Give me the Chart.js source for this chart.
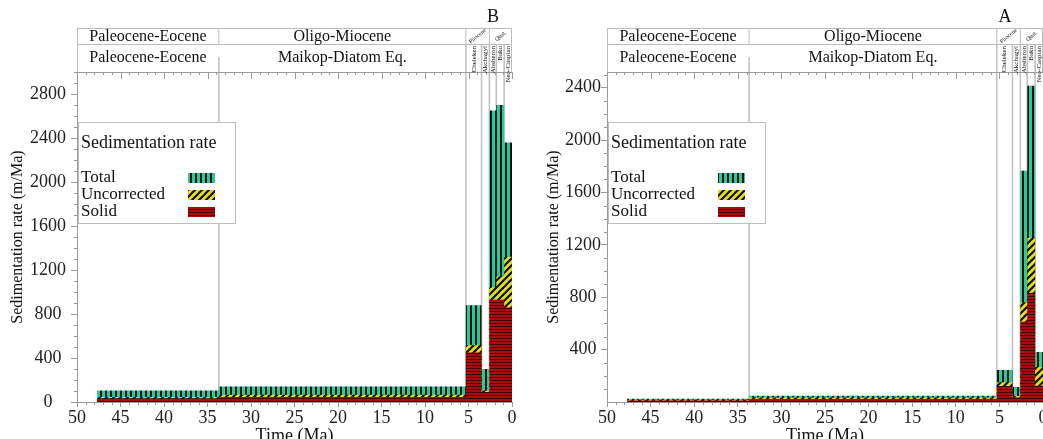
<!DOCTYPE html>
<html><head><meta charset="utf-8">
<script src="https://cdn.jsdelivr.net/npm/chart.js@4.4.1/dist/chart.umd.min.js"></script>
<style>
html,body{margin:0;padding:0;background:#fff;overflow:hidden;width:1043px;height:439px;}
canvas{position:absolute;top:0;}
#cB{left:0;}
#cA{left:522px;}
</style></head><body>
<canvas id="cB" width="522" height="447"></canvas>
<canvas id="cA" width="530" height="447"></canvas>
<script>
// ---- data ----
const barEdges = [47.7, 33.7, 5.3, 3.5, 2.6, 1.8, 0.9, 0];   // Ma, start of each interval (last = end)
const totalB   = [105, 140, 880, 300, 2650, 2700, 2360];
const uncorrB  = [45, 65, 515, 105, 1040, 1140, 1320];
const solidB   = [35, 45, 450, 90, 930, 930, 860];
const totalA   = [25, 48, 245, 115, 1765, 2415, 382];
const uncorrA  = [18, 35, 150, 45, 760, 1255, 268];
const solidA   = [12, 22, 122, 35, 612, 835, 125];
const timeTicks  = [50, 45, 40, 35, 30, 25, 20, 15, 10, 5, 0];
const rateTicksB = [0, 400, 800, 1200, 1600, 2000, 2400, 2800];
const rateTicksA = [400, 800, 1200, 1600, 2000, 2400];
const eraNames   = ['Paleocene-Eocene', 'Oligo-Miocene', 'Pliocene', 'Quat.'];
const eraEdges   = [50, 33.7, 5.3, 2.6, 0];
const stageNames = ['Paleocene-Eocene', 'Maikop-Diatom Eq.', 'Cheleken', 'Akchagyl', 'Absheron', 'Baku', 'Neo-Caspian'];
const stageEdges = [50, 33.7, 5.3, 3.5, 2.6, 1.8, 0.9, 0];
const legendTitle = 'Sedimentation rate';
const seriesNames = ['Total', 'Uncorrected', 'Solid'];

const FONT = "'Liberation Serif','Times New Roman',serif";

function makePattern(kind) {
  const c = document.createElement('canvas');
  const g = c.getContext('2d');
  if (kind === 'total') {
    c.width = 5; c.height = 5;
    g.fillStyle = '#2bc89c'; g.fillRect(0, 0, 5, 5);
    g.fillStyle = '#06140f'; g.fillRect(0, 0, 2, 5);
  } else if (kind === 'uncorr') {
    c.width = 7; c.height = 7;
    g.fillStyle = '#e6dc20'; g.fillRect(0, 0, 7, 7);
    g.strokeStyle = '#111'; g.lineWidth = 2.2;
    [-7, 0, 7].forEach(ox => {
      g.beginPath(); g.moveTo(ox - 1, 8); g.lineTo(ox + 8, -1); g.stroke();
    });
  } else {
    c.width = 4; c.height = 3;
    g.fillStyle = '#a80c0c'; g.fillRect(0, 0, 4, 3);
    g.fillStyle = 'rgba(40,0,0,0.75)'; g.fillRect(0, 2, 4, 1);
  }
  const ctx = document.createElement('canvas').getContext('2d');
  return ctx.createPattern(c, 'repeat');
}
const PAT = { total: makePattern('total'), uncorr: makePattern('uncorr'), solid: makePattern('solid') };

function stepPoints(vals) {
  return barEdges.map((x, i) => ({ x: x, y: vals[Math.min(i, vals.length - 1)] }));
}

const stratPlugin = {
  id: 'strat',
  beforeDatasetsDraw(chart) {
    const { ctx, chartArea: a, scales: { x } } = chart;
    ctx.save();
    ctx.strokeStyle = '#c2c2c2'; ctx.lineWidth = 1.6;
    stageEdges.forEach((e, i) => {
      if (i === 0 || i === stageEdges.length - 1) return;
      const px = x.getPixelForValue(e);
      ctx.beginPath(); ctx.moveTo(px, i === 1 ? 57 : 44); ctx.lineTo(px, a.bottom); ctx.stroke();
    });
    ctx.restore();
  },
  afterDatasetsDraw(chart) {
    const { ctx, chartArea: a } = chart;
    const L = a.left + 1, T = 122, W = 157, H = 101;
    ctx.save();
    ctx.fillStyle = '#fff'; ctx.fillRect(L, T, W, H);
    ctx.strokeStyle = '#bdbdbd'; ctx.lineWidth = 1; ctx.strokeRect(L + 0.5, T + 0.5, W, H);
    ctx.fillStyle = '#111'; ctx.textBaseline = 'middle'; ctx.textAlign = 'left';
    ctx.font = '18px ' + FONT;
    ctx.fillText(legendTitle, L + 3, 143);
    ctx.font = '17px ' + FONT;
    const rows = [[seriesNames[0], 178, PAT.total], [seriesNames[1], 195, PAT.uncorr], [seriesNames[2], 212, PAT.solid]];
    rows.forEach(([t, y, p]) => {
      ctx.fillStyle = '#111'; ctx.fillText(t, L + 3, y);
      ctx.fillStyle = p; ctx.fillRect(L + 110, y - 5, 27, 10);
    });
    ctx.restore();
  },
  afterDraw(chart, args, o) {
    const { ctx, chartArea: a, scales: { x, y } } = chart;
    const top = 28, mid = 44, bot = a.top;
    ctx.save();
    // header frame
    ctx.strokeStyle = '#bcbcbc'; ctx.lineWidth = 1;
    ctx.beginPath();
    ctx.moveTo(a.left, top + 0.5); ctx.lineTo(a.right, top + 0.5);
    ctx.moveTo(a.left, mid + 0.5); ctx.lineTo(a.right, mid + 0.5);
    ctx.moveTo(a.left + 0.5, top); ctx.lineTo(a.left + 0.5, bot);
    ctx.moveTo(a.right - 0.5, top); ctx.lineTo(a.right - 0.5, bot);
    eraEdges.forEach((e, i) => {
      if (i === 0 || i === eraEdges.length - 1) return;
      const px = x.getPixelForValue(e);
      ctx.moveTo(px, top); ctx.lineTo(px, mid);
    });
    ctx.stroke();
    // top axis line with ticks
    ctx.strokeStyle = '#9a9a9a';
    ctx.beginPath(); ctx.moveTo(a.left, bot + 0.5); ctx.lineTo(a.right, bot + 0.5);
    for (let m = 0; m <= 50; m++) {
      const px = Math.round(x.getPixelForValue(m)) + 0.5;
      ctx.moveTo(px, bot); ctx.lineTo(px, bot + (m % 5 === 0 ? 7 : 3));
    }
    // bottom minor ticks
    for (let m = 0; m <= 50; m++) {
      if (m % 5 === 0) continue;
      const px = Math.round(x.getPixelForValue(m)) + 0.5;
      ctx.moveTo(px, a.bottom); ctx.lineTo(px, a.bottom + 3);
    }
    // y minor ticks
    for (let v = 0; v <= y.max; v += 100) {
      if (v % 400 === 0) continue;
      const py = Math.round(y.getPixelForValue(v)) + 0.5;
      ctx.moveTo(a.left - 3, py); ctx.lineTo(a.left, py);
    }
    ctx.stroke();
    // header texts
    ctx.fillStyle = '#111'; ctx.textBaseline = 'middle'; ctx.textAlign = 'center';
    for (let i = 0; i < eraNames.length; i++) {
      const x0 = x.getPixelForValue(eraEdges[i]), x1 = x.getPixelForValue(eraEdges[i + 1]);
      const cx = (x0 + x1) / 2;
      if (x1 - x0 > 40) {
        ctx.font = '16px ' + FONT; ctx.fillText(eraNames[i], cx, 37);
      } else {
        ctx.save(); ctx.translate(cx, 36); ctx.rotate(-0.7);
        ctx.font = (x1 - x0 > 22 ? '6px ' : '8px ') + FONT; ctx.fillText(eraNames[i], 0, 0);
        ctx.restore();
      }
    }
    for (let i = 0; i < stageNames.length; i++) {
      const x0 = x.getPixelForValue(stageEdges[i]), x1 = x.getPixelForValue(stageEdges[i + 1]);
      const cx = (x0 + x1) / 2;
      if (x1 - x0 > 40) {
        ctx.font = '16px ' + FONT; ctx.textAlign = 'center'; ctx.fillText(stageNames[i], cx, 58);
      } else {
        ctx.save(); ctx.translate(cx, 46); ctx.rotate(-Math.PI / 2);
        ctx.font = '7px ' + FONT; ctx.textAlign = 'right'; ctx.fillText(stageNames[i], 0, 0);
        ctx.restore();
      }
    }
    // panel letter
    ctx.font = '18px ' + FONT; ctx.textAlign = 'center';
    ctx.fillText(o.letter, o.letterX, 17);
    ctx.restore();
  }
};

function build(id, cfg) {
  const ctx = document.getElementById(id).getContext('2d');
  return new Chart(ctx, {
    type: 'line',
    data: {
      datasets: [
        { label: seriesNames[2], data: stepPoints(cfg.solid), order: 0, stepped: 'before', fill: 'origin',
          backgroundColor: PAT.solid, borderWidth: 0, pointRadius: 0 },
        { label: seriesNames[1], data: stepPoints(cfg.uncorr), order: 1, stepped: 'before', fill: 'origin',
          backgroundColor: PAT.uncorr, borderWidth: 0, pointRadius: 0 },
        { label: seriesNames[0], data: stepPoints(cfg.total), order: 2, stepped: 'before', fill: 'origin',
          backgroundColor: PAT.total, borderWidth: 0, pointRadius: 0 }
      ]
    },
    options: {
      responsive: false, animation: false, devicePixelRatio: 1,
      layout: { padding: { top: 72, right: cfg.padRight, left: 0, bottom: 0 } },
      plugins: { legend: { display: false }, tooltip: { enabled: false }, strat: { letter: cfg.letter, letterX: cfg.letterX } },
      scales: {
        x: {
          type: 'linear', reverse: true, min: 0, max: 50,
          afterBuildTicks: s => { s.ticks = timeTicks.map(v => ({ value: v })); },
          afterFit: s => { s.height = 45; },
          ticks: { autoSkip: false, maxRotation: 0, font: { family: FONT, size: 18 }, color: '#222', padding: 0, callback: v => String(v) },
          grid: { drawOnChartArea: false, tickLength: 5, color: '#9a9a9a' },
          border: { color: '#9a9a9a' },
          title: { display: true, text: 'Time (Ma)', font: { family: FONT, size: 18 }, color: '#111', padding: { top: 0, bottom: 0 } }
        },
        y: {
          min: 0, max: cfg.yMax,
          afterBuildTicks: s => { s.ticks = cfg.rateTicks.map(v => ({ value: v })); },
          afterFit: s => { s.width = cfg.yWidth; },
          ticks: { font: { family: FONT, size: 18 }, color: '#222', crossAlign: 'center', padding: cfg.yPad, callback: v => String(v) },
          grid: { drawOnChartArea: false, tickLength: 6, color: '#9a9a9a' },
          border: { color: '#9a9a9a' },
          title: { display: true, text: 'Sedimentation rate (m/Ma)', font: { family: FONT, size: 16 }, color: '#111', padding: { top: cfg.titlePad, bottom: 0 } }
        }
      }
    },
    plugins: [stratPlugin]
  });
}

build('cB', { total: totalB, uncorr: uncorrB, solid: solidB, yMax: 3000, rateTicks: rateTicksB,
  yWidth: 77, yPad: 5, titlePad: 8, padRight: 10, letter: 'B', letterX: 493 });
build('cA', { total: totalA, uncorr: uncorrA, solid: solidA, yMax: 2520, rateTicks: rateTicksA,
  yWidth: 85, yPad: 0, titlePad: 22, padRight: 9, letter: 'A', letterX: 483 });
</script>
</body></html>
